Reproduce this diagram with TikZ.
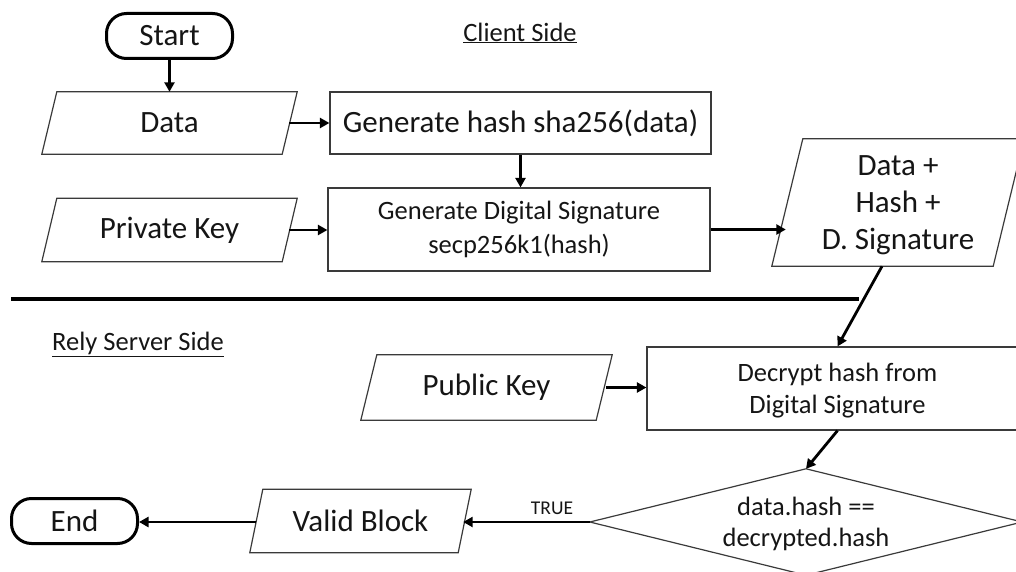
\documentclass[tikz,border=0pt]{standalone}
\usepackage{fontspec}
\setmainfont{Carlito}
\usetikzlibrary{arrows.meta}
\definecolor{boxgray}{HTML}{3A3A3A}
\definecolor{txt}{HTML}{151515}
\newcommand\fbig{\fontsize{31}{37}\selectfont}
\newcommand\fmid{\fontsize{26.5}{32.5}\selectfont}
\newcommand\fsmall{\fontsize{19.5}{22}\selectfont}
\begin{document}
\begin{tikzpicture}[x=1pt,y=-1pt,
  plain/.style={inner sep=0pt, align=center, text=txt},
  box/.style={plain, draw=boxgray, line width=1.2pt},
  boxline/.style={draw=boxgray, line width=1.2pt, line join=miter},
  term/.style={plain, draw=black, line width=3pt, rounded corners=20pt,
    minimum width=126pt, minimum height=45pt, font=\fbig},
  flow/.style={line width=2.8pt, -{Triangle[length=9.5pt,width=10pt]}},
  rule/.style={line width=3.5pt}]
\useasboundingbox (0,0) rectangle (1016,572);
\clip (0,0) rectangle (1016,572);

% section headings
\node[plain, font=\fmid] (client) at (520,33) {\underline{Client Side}};
\node[plain, font=\fmid] (rely) at (138,344) {\underline{Rely Server Side}};

% client side
\node[term] (start) at (169.5,36) {Start};
\node[plain, minimum width=255pt, minimum height=62pt, font=\fbig] (data) at (169.5,123) {Data};
\node[box, minimum width=381pt, minimum height=62pt, font=\fbig] (hash) at (520.5,123) {Generate hash sha256(data)};
\node[plain, minimum width=255pt, minimum height=63pt, font=\fbig] (pk) at (169.5,230) {Private Key};
\node[box, minimum width=382pt, minimum height=83pt, font=\fmid] (sig) at (519,229.5) {Generate Digital Signature\\[1.5pt]secp256k1(hash)};
\node[plain, minimum width=252pt, minimum height=127pt, font=\fbig, text depth=0pt] (dhs) at (898,202.5) {Data +\\Hash +\\D. Signature};

% boundary between the two sides
\coordinate (sepL) at (11,299);
\coordinate (sepR) at (859,299);
\draw[rule] (sepL) -- (sepR);

% relay server side
\node[box, minimum width=381pt, minimum height=83pt, font=\fmid, text depth=0pt] (dec) at (837.5,388.5) {Decrypt hash from\\Digital Signature};
\node[plain, minimum width=251pt, minimum height=65pt, font=\fbig] (pub) at (486.5,387.5) {Public Key};
\node[plain, minimum width=432pt, minimum height=106pt, font=\fmid, text depth=0pt] (dia) at (806,522) {data.hash ==\\[-1pt]decrypted.hash};
\node[plain, minimum width=221pt, minimum height=63pt, font=\fbig] (valid) at (360.5,521) {Valid Block};
\node[term] (end) at (74.5,521) {End};
\node[plain, font=\fsmall] (true) at (552,508) {TRUE};

% input/output parallelograms
\foreach \n/\s in {data/15, pk/15, dhs/31, pub/16, valid/13}
  \draw[boxline] ([xshift=\s]\n.north west) -- (\n.north east)
    -- ([xshift=-\s]\n.south east) -- (\n.south west) -- cycle;
% decision diamond
\draw[boxline] (dia.north) -- (dia.east) -- (dia.south) -- (dia.west) -- cycle;

% flow
\draw[flow] (start) -- (data);
\draw[flow] ([xshift=-8]data.east) -- (hash.west);
\draw[flow] (hash.south) -- (hash.south |- sig.north);
\draw[flow] ([xshift=-8]pk.east) -- (pk.east -| sig.west);
\draw[flow] (sig.east) -- ([xshift=14]sig.east -| dhs.west);
\draw[flow] ([xshift=-16]dhs.south) -- (dec.north);
\draw[flow] ([xshift=-6]pub.east) -- (pub.east -| dec.west);
\draw[flow] (dec.south) -- (dia.north);
\draw[flow] (dia.west) -- ([xshift=-8]valid.east |- dia.west);
\draw[flow] ([xshift=6]valid.west |- dia.west) -- (end.east |- dia.west);
\end{tikzpicture}
\end{document}
